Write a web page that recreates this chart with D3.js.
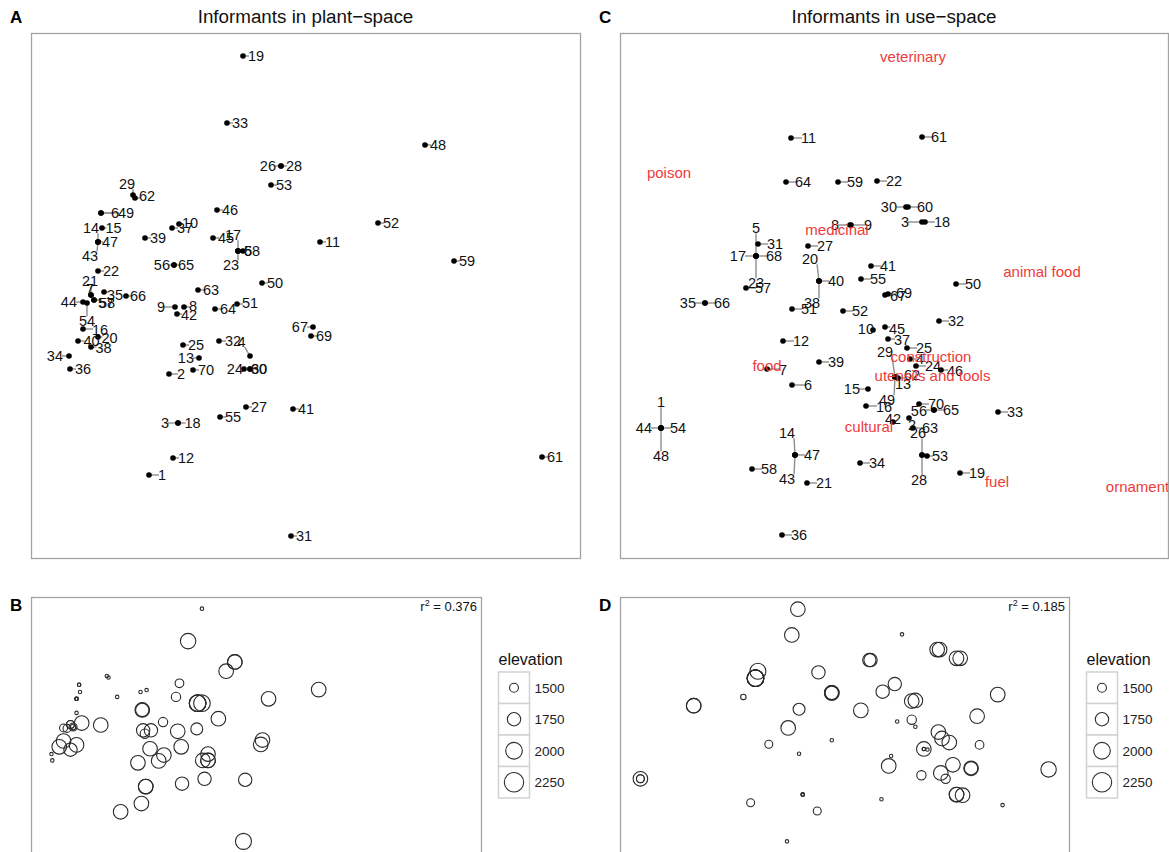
<!DOCTYPE html>
<html>
<head>
<meta charset="utf-8">
<script src="https://cdnjs.cloudflare.com/ajax/libs/d3/7.8.5/d3.min.js"></script>
<style>
  body { margin: 0; background: #fff; }
  text { font-family: "Liberation Sans", Arial, Helvetica, sans-serif; }
</style>
</head>
<body>
<div id="chart"></div>
<script>
// informant numbers 1..70
var ids = d3.range(1, 71);

// ordination scores in plant-space (panel A / B)
var plantX = [-1.56,-1.36,-1.27,-0.55,-0.62,-2.04,-2.14,-1.21,-1.30,-1.26,
               0.15,-1.32,-1.06,-2.07,-2.03,-2.22,-0.67,-1.27,-0.62,-2.07,
              -2.14,-2.07,-0.67,-0.61,-1.22,-0.24,-0.59,-0.24,-1.72,-0.55,
              -0.14,-0.86,-0.78,-2.36,-2.01,-2.35,-1.33,-2.14,-1.60,-2.27,
              -0.12,-1.28,-2.07,-2.22,-0.92,-0.88,-2.07, 1.20,-2.04,-0.43,
              -0.68, 0.73,-0.34,-2.18,-0.85,-1.31,-2.11,-2.11, 1.49,-0.55,
               2.37,-1.70,-1.07,-0.90,-1.31,-1.79, 0.08,-0.67, 0.06,-1.12];
var plantY = [-1.80,-0.79,-1.28,-0.61, 0.44, 0.82, 0.00,-0.12,-0.12, 0.71,
               0.53,-1.63,-0.63, 0.53, 0.67,-0.34, 0.44,-1.28, 2.39,-0.42,
               0.00, 0.24, 0.44,-0.74,-0.50, 1.29,-1.12, 1.29, 1.00,-0.74,
              -2.41,-0.46, 1.72,-0.61, 0.03,-0.74, 0.67,-0.52, 0.57,-0.46,
              -1.14,-0.19, 0.53,-0.07, 0.57, 0.85, 0.53, 1.50, 0.82, 0.12,
              -0.09, 0.72, 1.10,-0.08,-1.22, 0.30,-0.05,-0.05, 0.34,-0.74,
              -1.62, 0.97, 0.05,-0.14, 0.30,-0.01,-0.32, 0.44,-0.41,-0.75];

// ordination scores in use-space (panel C / D)
var useX = [-2.33, 0.15, 0.28, 0.16,-1.38,-1.02,-1.27,-0.44,-0.43,-0.21,
            -1.03,-1.11, 0.01,-0.99,-0.26,-0.28,-1.38, 0.31, 0.66,-0.75,
            -0.87,-0.17,-1.38, 0.22, 0.13, 0.28,-0.86, 0.28, 0.01, 0.12,
            -1.36, 0.45, 1.04,-0.34,-1.89,-1.12,-0.06,-0.75,-0.75,-0.75,
            -0.23,-0.01,-0.99,-2.33,-0.09, 0.47,-0.99,-2.33, 0.01, 0.62,
            -1.02,-0.51, 0.33,-2.33,-0.33, 0.40,-1.48,-1.42,-0.56, 0.14,
             0.28, 0.04, 0.19,-1.08, 0.40,-1.89,-0.09,-1.38,-0.06, 0.25];
var useY = [-1.33,-1.23, 0.73,-0.64, 0.39,-0.90,-0.74, 0.70, 0.70,-0.35,
             1.57,-0.46,-0.82,-1.60,-0.94,-1.11, 0.39, 0.73,-1.78, 0.14,
            -1.88, 1.14, 0.39,-0.71,-0.53,-1.60, 0.49,-1.60,-0.82, 0.88,
             0.51,-0.26,-1.17,-1.68,-0.08,-2.40,-0.44, 0.14,-0.67, 0.14,
             0.29,-1.27,-1.60,-1.33,-0.32,-0.75,-1.60,-1.33,-0.82, 0.11,
            -0.14,-0.16,-1.61,-1.33, 0.16,-1.15, 0.07,-1.74, 1.13, 0.88,
             1.58,-0.83,-1.33, 1.13,-1.15,-0.08, 0.00, 0.39, 0.01,-1.09];

// elevation of each informant (m), null where missing
var elevation = [1840,1840,1840,1840,2000,1330,1460,1750,1750,1330,
                 1840,1840,1840,1330,1330,1840,2000,1840,1330,1840,
                 1460,1330,2000,1840,1840,1840,1750,1840,1330,1840,
                 1950,1840,1900,1330,1840,1330,1330,1750,1330,1840,
                 1750,1520,1330,1460,1520,1490,1330,null,1330,1840,
                 1660,1840,1840,1460,1750,1840,1375,1460,null,1840,
                 null,1330,1520,1840,1750,1840,1840,2000,1840,1840];

// use categories placed in use-space
var useCategories = ["veterinary","poison","medicinal","animal food","construction",
                     "utensils and tools","food","cultural","fuel","ornament"];
var useCatX = [0.19,-2.25,-0.57, 1.48, 0.37, 0.385,-1.27,-0.25, 1.03, 2.435];
var useCatY = [2.38, 1.22, 0.65, 0.23,-0.62,-0.81,-0.71,-1.32,-1.87,-1.92];

var legendElevation = [1500, 1750, 2000, 2250];
var rSquaredPlant = 0.376;
var rSquaredUse = 0.185;

// label nudges: [dx, dy, anchor] relative to the point (default: to the right)
var plantNudge = {
  26:[-5,0,"end"], 29:[-6,-11,"middle"], 62:[4,-2], 6:[10,0], 49:[17,0],
  14:[-7,-14,"middle"], 43:[-8,14,"middle"], 15:[3.5,0], 47:[4,0],
  10:[3,-1], 17:[-5,-16,"middle"], 23:[-7,14,"middle"], 68:[6,0], 5:[1,0],
  56:[-4,0,"end"], 65:[4,0], 21:[-1,-14,"middle"], 7:[-1,-6,"middle"],
  35:[3,3], 66:[4,0], 44:[-6,0,"end"], 57:[4,3], 58:[5,3], 54:[0,18,"middle"],
  16:[9,1], 20:[3.5,0.6], 40:[5.5,0], 38:[4.5,1], 34:[-6,0,"end"],
  9:[-10,0,"end"], 8:[5,-1.5], 42:[4,1], 51:[5,-1], 67:[-5,0,"end"],
  32:[6,0], 4:[-8.5,-14.3,"middle"], 24:[-1,0,"end"], 30:[1,0], 60:[1,0],
  13:[-5,0,"end"], 2:[8,0], 3:[-9,0,"end"], 18:[6.5,0], 1:[9,0]
};
var useNudge = {
  1:[0,-26,"middle"], 44:[-9,0,"end"], 48:[0,28,"middle"],
  5:[0,-28,"middle"], 17:[-10,0,"end"], 68:[10,0], 23:[0,27,"middle"],
  8:[-11,0,"end"], 9:[13,0], 20:[-9,-22,"middle"], 38:[-7,22,"middle"],
  67:[5,1], 69:[8,-1], 30:[-9,0,"end"], 3:[-13,0,"end"], 10:[1,-1,"end"],
  45:[4,2], 37:[6,1], 29:[-10,-25,"middle"], 4:[6,0], 46:[6,1], 62:[6,-3],
  13:[0,7], 49:[-8,23,"middle"], 15:[-8,0,"end"], 16:[10,1], 56:[-7,1,"end"],
  42:[-8,-3], 2:[-1,7], 26:[-4,-22,"middle"], 28:[-3,25,"middle"], 53:[5,0],
  14:[-8,-22,"middle"], 43:[-8,24,"middle"], 7:[12,1], 6:[12,0], 12:[10,0],
  11:[10,0], 35:[-9,0,"end"]
};

var svg = d3.select("#chart").append("svg")
  .attr("width", 1169)
  .attr("height", 852);

var panelA = {name: "A", x0: 31, x1: 580, y0: 33, y1: 558};
var panelC = {name: "C", x0: 620, x1: 1168, y0: 33, y1: 558};
var panelB = {name: "B", x0: 31, x1: 481, y0: 597, y1: 853};
var panelD = {name: "D", x0: 620, x1: 1069, y0: 597, y1: 853};

var defs = svg.append("defs");

function panelBox(p) {
  defs.append("clipPath").attr("id", "clip" + p.name)
    .append("rect")
    .attr("x", p.x0).attr("y", p.y0)
    .attr("width", p.x1 - p.x0).attr("height", p.y1 - p.y0);
  svg.append("rect")
    .attr("x", p.x0 + 0.5).attr("y", p.y0 + 0.5)
    .attr("width", p.x1 - p.x0).attr("height", p.y1 - p.y0)
    .attr("fill", "none")
    .attr("stroke", "#a3a3a3")
    .attr("stroke-width", 1.3);
  return svg.append("g").attr("clip-path", "url(#clip" + p.name + ")");
}

function padded(vals, f) {
  var e = d3.extent(vals);
  var p = (e[1] - e[0]) * f;
  return [e[0] - p, e[1] + p];
}

// labelled points with leader lines
function drawSpace(p, xs, ys, domX, domY, nudge, defDx) {
  var x = d3.scaleLinear().domain(domX).range([p.x0, p.x1]);
  var y = d3.scaleLinear().domain(domY).range([p.y1, p.y0]);
  var g = panelBox(p);

  var pts = ids.map(function(id, i) {
    return {id: id, cx: x(xs[i]), cy: y(ys[i])};
  });

  var lineG = g.append("g");
  var dotG = g.append("g");
  var labG = g.append("g");

  dotG.selectAll("circle")
    .data(pts)
    .enter()
    .append("circle")
    .attr("cx", d => d.cx)
    .attr("cy", d => d.cy)
    .attr("r", 2.8)
    .attr("fill", "#000");

  labG.selectAll("text")
    .data(pts)
    .enter()
    .append("text")
    .attr("x", d => d.cx + (nudge[d.id] ? nudge[d.id][0] : defDx))
    .attr("y", d => d.cy + (nudge[d.id] ? nudge[d.id][1] : 0))
    .attr("dy", "0.36em")
    .attr("text-anchor", d => (nudge[d.id] && nudge[d.id][2]) || "start")
    .attr("font-size", 14.5)
    .attr("fill", "#111")
    .text(d => d.id);

  // leader line from the point to the nearest edge of its label
  labG.selectAll("text").each(function(d) {
    var b = this.getBBox();
    var px = Math.max(b.x + 1, Math.min(d.cx, b.x + b.width - 1));
    var py = Math.max(b.y + 3, Math.min(d.cy, b.y + b.height - 3));
    if (Math.hypot(px - d.cx, py - d.cy) > 3.5) {
      lineG.append("line")
        .attr("x1", d.cx).attr("y1", d.cy)
        .attr("x2", px).attr("y2", py)
        .attr("stroke", "#8e8e8e")
        .attr("stroke-width", 1.4);
    }
  });

  return {x: x, y: y, g: g};
}

var rScale = d3.scaleRadial().domain([1300, 2250]).range([0, 9.7]);

function drawBubbles(p, xs, ys, r2) {
  var x = d3.scaleLinear().domain(padded(xs, 0.05)).range([p.x0, p.x1]);
  var y = d3.scaleLinear().domain(padded(ys, 0.05)).range([p.y1, p.y0]);
  var g = panelBox(p);

  var pts = ids.map(function(id, i) {
    return {id: id, cx: x(xs[i]), cy: y(ys[i]), elev: elevation[i]};
  }).filter(d => d.elev != null);

  g.selectAll("circle")
    .data(pts)
    .enter()
    .append("circle")
    .attr("cx", d => d.cx)
    .attr("cy", d => d.cy)
    .attr("r", d => rScale(d.elev))
    .attr("fill", "none")
    .attr("stroke", "#2a2a2a")
    .attr("stroke-width", 1.1);

  var t = svg.append("text")
    .attr("x", p.x1 - 4)
    .attr("y", p.y0 + 14)
    .attr("text-anchor", "end")
    .attr("font-size", 13)
    .attr("fill", "#111");
  t.append("tspan").text("r");
  t.append("tspan").attr("dy", -5).attr("font-size", 9).text("2");
  t.append("tspan").attr("dy", 5).text(" = " + r2);

  // legend
  var lx = p.x1 + 17.5, ly = 672, cw = 31, ch = 31.5;
  svg.append("text")
    .attr("x", lx)
    .attr("y", ly - 7)
    .attr("font-size", 16)
    .attr("fill", "#111")
    .text("elevation");
  var items = svg.append("g").selectAll("g")
    .data(legendElevation)
    .enter()
    .append("g")
    .attr("transform", (d, i) => `translate(${lx}, ${ly + i * ch})`);
  items.append("rect")
    .attr("width", cw).attr("height", ch)
    .attr("fill", "#fff")
    .attr("stroke", "#d2d2d2")
    .attr("stroke-width", 1.5);
  items.append("circle")
    .attr("cx", cw / 2).attr("cy", ch / 2)
    .attr("r", d => rScale(d))
    .attr("fill", "none")
    .attr("stroke", "#2a2a2a")
    .attr("stroke-width", 1.1);
  items.append("text")
    .attr("x", cw + 5).attr("y", ch / 2)
    .attr("dy", "0.36em")
    .attr("font-size", 13.5)
    .attr("fill", "#222")
    .text(d => d);
}

// panel A
drawSpace(panelA, plantX, plantY, [-2.74, 2.75], [-2.63, 2.62], plantNudge, 5);

// panel C
var use = drawSpace(panelC, useX, useY, [-2.74, 2.74], [-2.63, 2.62], useNudge, 9);
use.g.append("g").selectAll("text")
  .data(useCategories)
  .enter()
  .append("text")
  .attr("x", (d, i) => use.x(useCatX[i]))
  .attr("y", (d, i) => use.y(useCatY[i]))
  .attr("dy", "0.36em")
  .attr("text-anchor", "middle")
  .attr("font-size", 15)
  .attr("fill", "#ee3b3b")
  .text(d => d);

// panels B and D
drawBubbles(panelB, plantX, plantY, rSquaredPlant);
drawBubbles(panelD, useX, useY, rSquaredUse);

// titles and panel letters
svg.append("text").attr("x", 305.5).attr("y", 23).attr("text-anchor", "middle")
  .attr("font-size", 18.8).attr("fill", "#111").text("Informants in plant\u2212space");
svg.append("text").attr("x", 894).attr("y", 23).attr("text-anchor", "middle")
  .attr("font-size", 18.8).attr("fill", "#111").text("Informants in use\u2212space");

[["A", 10, 23], ["C", 599, 23], ["B", 10, 611], ["D", 599, 611]].forEach(function(l) {
  svg.append("text")
    .attr("x", l[1]).attr("y", l[2])
    .attr("font-size", 17)
    .attr("font-weight", "bold")
    .attr("fill", "#000")
    .text(l[0]);
});
</script>
